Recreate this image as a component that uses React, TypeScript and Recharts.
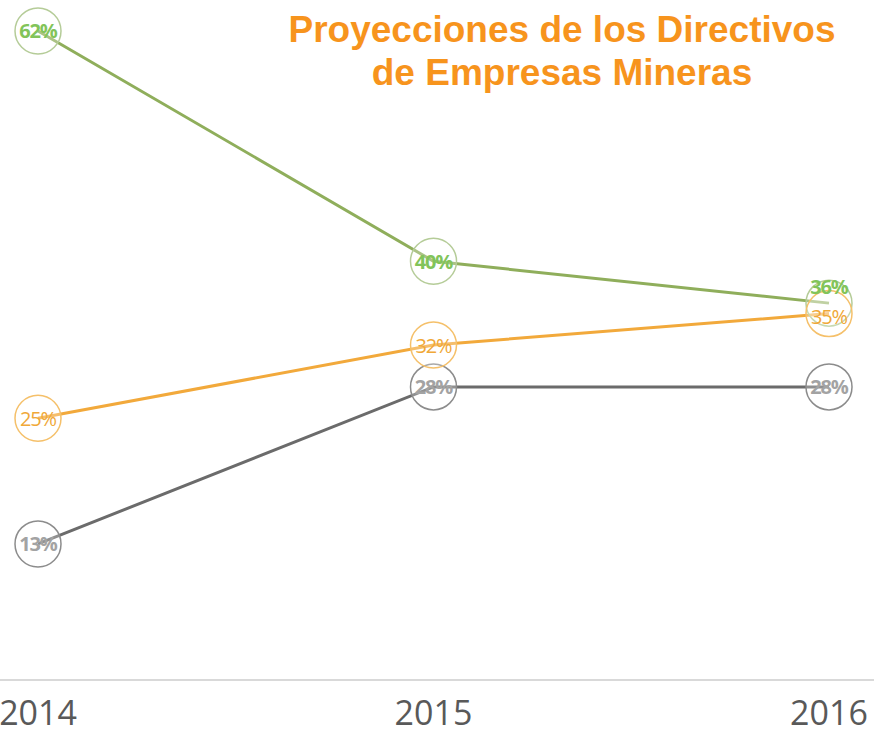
import React from "react";
import { LineChart, Line, XAxis, YAxis, LabelList } from "recharts";

const years = ["2014", "2015", "2016"];
const greenValues = [62, 40, 36];
const orangeValues = [25, 32, 35];
const grayValues = [13, 28, 28];

const data = years.map((year, i) => ({
  year,
  green: greenValues[i],
  orange: orangeValues[i],
  gray: grayValues[i],
}));

const FONT = "'Open Sans', 'DejaVu Sans', sans-serif";

function ringDot(stroke: string) {
  return (props: any) => {
    const { cx, cy, index } = props;
    if (cx == null || cy == null) return null;
    return (
      <circle
        key={index}
        cx={cx}
        cy={cy}
        r={23}
        fill="rgba(255,255,255,0.25)"
        stroke={stroke}
        strokeWidth={1.5}
      />
    );
  };
}

function labelRenderer(color: string, bold: boolean, offsets: number[]) {
  return (props: any) => {
    const { x, y, value, index } = props;
    return (
      <text
        x={x}
        y={y + (offsets[index] || 0)}
        textAnchor="middle"
        dominantBaseline="central"
        fill={color}
        fontFamily={FONT}
        fontSize={20}
        fontWeight={bold ? 700 : 400}
        letterSpacing={-1.2}
      >
        {value}%
      </text>
    );
  };
}

export default function App() {
  return (
    <div style={{ position: "absolute", left: 0, top: 0, width: 874, height: 739, background: "#fff" }}>
      <LineChart width={874} height={739} data={data} margin={{ top: 10, right: 0, bottom: 0, left: 0 }}>
        <XAxis
          dataKey="year"
          height={59}
          padding={{ left: 38, right: 45 }}
          axisLine={{ stroke: "#d9d9d9", strokeWidth: 2 }}
          tickLine={false}
          tickMargin={15}
          tick={{ fill: "#595959", fontSize: 34, fontFamily: FONT }}
          interval={0}
        />
        <YAxis hide domain={[0, 64]} />
        <Line
          dataKey="gray"
          stroke="#6b6b6b"
          strokeWidth={3}
          dot={ringDot("#8c8c8c")}
          isAnimationActive={false}
        >
          <LabelList dataKey="gray" content={labelRenderer("#a3a3a3", true, [0, 0, 0])} />
        </Line>
        <Line
          dataKey="green"
          stroke="#8fae5b"
          strokeWidth={3}
          dot={ringDot("#b5cc98")}
          isAnimationActive={false}
        >
          <LabelList dataKey="green" content={labelRenderer("#82c45a", true, [0, 0, -17])} />
        </Line>
        <Line
          dataKey="orange"
          stroke="#f2a93b"
          strokeWidth={3}
          dot={ringDot("#f5c06a")}
          isAnimationActive={false}
        >
          <LabelList dataKey="orange" content={labelRenderer("#f0a838", false, [0, 0, 3])} />
        </Line>
      </LineChart>
      <div
        style={{
          position: "absolute",
          left: 212,
          top: 8,
          width: 700,
          textAlign: "center",
          color: "#f7941d",
          fontFamily: "'Liberation Sans', Arial, sans-serif",
          fontWeight: 700,
          fontSize: 37,
          lineHeight: "43px",
        }}
      >
        Proyecciones de los Directivos
        <br />
        de Empresas Mineras
      </div>
    </div>
  );
}
